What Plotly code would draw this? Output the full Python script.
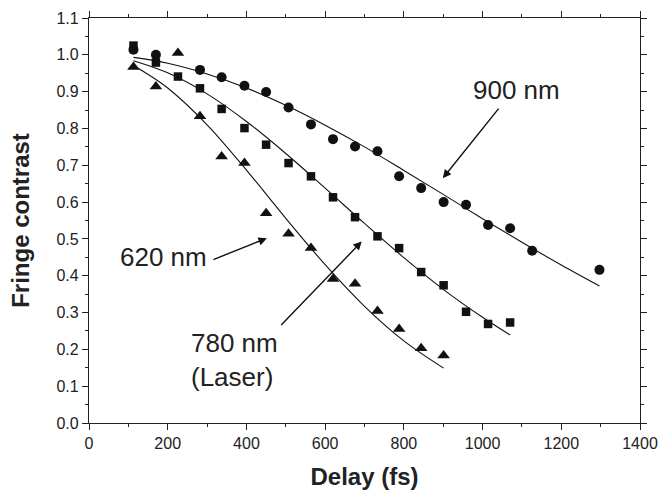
import plotly.graph_objects as go

# ---- data ----
delay_900 = [113, 170, 282, 337, 395, 450, 507, 564, 620, 676, 733, 788, 844, 901, 958, 1014, 1070, 1126, 1297]
contrast_900 = [1.014, 1.000, 0.959, 0.939, 0.916, 0.899, 0.857, 0.811, 0.771, 0.751, 0.738, 0.670, 0.638, 0.600, 0.593, 0.538, 0.529, 0.468, 0.416]

delay_780 = [113, 170, 226, 282, 337, 395, 450, 507, 564, 620, 676, 733, 788, 844, 901, 958, 1014, 1070]
contrast_780 = [1.025, 0.979, 0.941, 0.909, 0.853, 0.801, 0.756, 0.706, 0.670, 0.613, 0.559, 0.507, 0.475, 0.410, 0.374, 0.302, 0.269, 0.273]

delay_620 = [113, 170, 226, 282, 337, 395, 450, 507, 564, 620, 676, 733, 788, 844, 901]
contrast_620 = [0.967, 0.914, 1.005, 0.833, 0.724, 0.706, 0.570, 0.514, 0.475, 0.391, 0.378, 0.304, 0.255, 0.203, 0.183]

# fitted curves
fit_x_900 = [113, 200, 300, 400, 500, 600, 700, 800, 900, 1000, 1100, 1200, 1297]
fit_y_900 = [0.993, 0.977, 0.948, 0.910, 0.863, 0.809, 0.750, 0.686, 0.621, 0.555, 0.491, 0.429, 0.372]

fit_x_780 = [113, 200, 300, 400, 500, 600, 700, 800, 900, 1000, 1070]
fit_y_780 = [0.984, 0.951, 0.894, 0.819, 0.732, 0.638, 0.542, 0.449, 0.363, 0.287, 0.239]

fit_x_620 = [113, 200, 300, 400, 500, 600, 700, 800, 901]
fit_y_620 = [0.971, 0.910, 0.810, 0.687, 0.556, 0.430, 0.317, 0.223, 0.149]

x_tick_vals = [0, 200, 400, 600, 800, 1000, 1200, 1400]
y_tick_vals = [0.0, 0.1, 0.2, 0.3, 0.4, 0.5, 0.6, 0.7, 0.8, 0.9, 1.0, 1.1]

FONT = "Liberation Sans, Arial, sans-serif"
INK = "#222222"

fig = go.Figure()

for fx, fy in [(fit_x_900, fit_y_900), (fit_x_780, fit_y_780), (fit_x_620, fit_y_620)]:
    fig.add_trace(go.Scatter(x=fx, y=fy, mode="lines", line=dict(color="#111111", width=1.1, shape="spline"),
                             showlegend=False, hoverinfo="skip"))

fig.add_trace(go.Scatter(x=delay_900, y=contrast_900, mode="markers", name="900 nm",
                         marker=dict(symbol="circle", size=10, color="#111111"), showlegend=False))
fig.add_trace(go.Scatter(x=delay_780, y=contrast_780, mode="markers", name="780 nm",
                         marker=dict(symbol="square", size=8.5, color="#111111"), showlegend=False))
fig.add_trace(go.Scatter(x=delay_620, y=contrast_620, mode="markers", name="620 nm",
                         marker=dict(symbol="triangle-up", size=11, color="#111111"), showlegend=False))

axis_common = dict(showline=True, linecolor="#222222", linewidth=1.2, mirror="allticks",
                   ticks="outside", ticklen=6, tickwidth=1, tickcolor="#222222",
                   showgrid=False, zeroline=False, automargin=False,
                   tickfont=dict(family=FONT, size=16, color=INK))

fig.update_xaxes(range=[0, 1400], tickvals=x_tick_vals,
                 minor=dict(dtick=100, ticklen=3, tickcolor="#222222", ticks="outside"),
                 title=dict(text="<b>Delay (fs)</b>", font=dict(family=FONT, size=24, color=INK), standoff=16),
                 **axis_common)
fig.update_yaxes(range=[0, 1.1], tickvals=y_tick_vals, tickformat=".1f",
                 minor=dict(dtick=0.05, ticklen=3, tickcolor="#222222", ticks="outside"),
                 title=dict(text="<b>Fringe contrast</b>", font=dict(family=FONT, size=24, color=INK), standoff=20),
                 **axis_common)

ann_font = dict(family=FONT, size=26, color=INK)
annotations = [
    dict(x=1086, y=0.905, text="900 nm", showarrow=False, font=ann_font, xanchor="center", yanchor="middle"),
    dict(x=189, y=0.450, text="620 nm", showarrow=False, font=ann_font, xanchor="center", yanchor="middle"),
    dict(x=254, y=0.170, text="780 nm<br>(Laser)", showarrow=False, font=ann_font, xanchor="left",
         yanchor="middle", align="left"),
    dict(x=899, y=0.665, ax=57, ay=-71, text="", showarrow=True, arrowhead=2, arrowsize=1.2,
         arrowwidth=1.4, arrowcolor="#111111"),
    dict(x=452, y=0.502, ax=-55, ay=22, text="", showarrow=True, arrowhead=2, arrowsize=1.2,
         arrowwidth=1.4, arrowcolor="#111111"),
    dict(x=693, y=0.493, ax=-82, ay=85, text="", showarrow=True, arrowhead=2, arrowsize=1.2,
         arrowwidth=1.4, arrowcolor="#111111"),
]
fig.update_layout(
    width=659, height=493,
    margin=dict(l=89, r=19, t=18, b=70),
    paper_bgcolor="white", plot_bgcolor="white",
    font=dict(family=FONT, color=INK),
    annotations=annotations,
    showlegend=False,
)

fig.write_html("out.html")
